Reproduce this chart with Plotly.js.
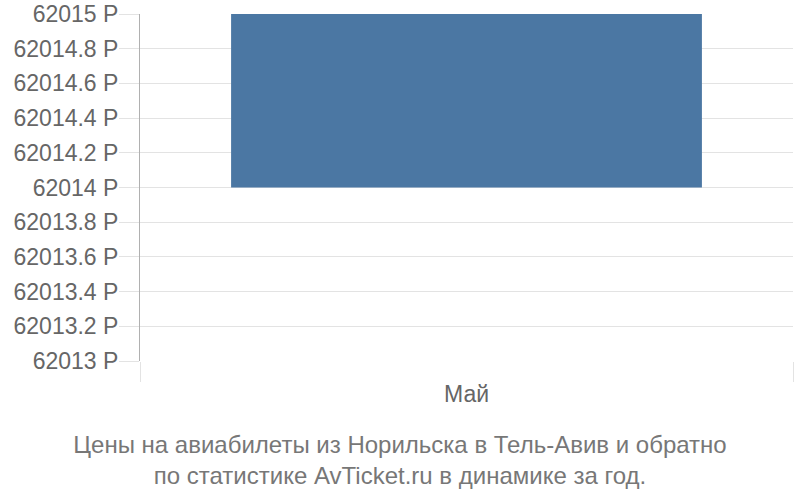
<!DOCTYPE html>
<html>
<head>
<meta charset="utf-8">
<script src="https://cdn.plot.ly/plotly-3.0.1.min.js"></script>
<style>
body{margin:0;padding:0;background:#fff;}
#chart{width:800px;height:500px;}
</style>
</head>
<body>
<div id="chart"></div>
<script>
// data
var months = ['Май'];
var priceLow = [62014];
var priceHigh = [62015];
var yTicks = [62013, 62013.2, 62013.4, 62013.6, 62013.8, 62014, 62014.2, 62014.4, 62014.6, 62014.8, 62015];

var tickText = yTicks.map(function(v){ return (Math.round(v*10)/10) + ' Р'; });
var heights = priceHigh.map(function(h, i){ return h - priceLow[i]; });

var trace1 = {
  x: months,
  y: heights,
  base: priceLow,
  type: 'bar',
  marker: {color: '#4b77a3'},
  hoverinfo: 'none'
};

var layout = {
  width: 800,
  height: 500,
  margin: {l: 140, r: 7, t: 14, b: 139},
  paper_bgcolor: '#fff',
  plot_bgcolor: '#fff',
  font: {family: 'Liberation Sans, Arial, sans-serif', color: '#666'},
  showlegend: false,
  bargap: 0.279,
  xaxis: {
    type: 'category',
    tickson: 'boundaries',
    ticks: 'outside',
    ticklen: 20,
    tickcolor: '#e3e3e3',
    ticklabelstandoff: 17,
    showgrid: true,
    gridcolor: '#e3e3e3',
    gridwidth: 1,
    showline: false,
    zeroline: false,
    tickfont: {size: 23, color: '#666'}
  },
  yaxis: {
    range: [62013, 62015],
    tickvals: yTicks,
    ticktext: tickText,
    ticks: 'outside',
    ticklen: 20,
    tickcolor: '#e3e3e3',
    ticklabelstandoff: -4,
    gridcolor: '#e3e3e3',
    showline: true,
    linecolor: '#b0b0b0',
    zeroline: false,
    tickfont: {size: 23, color: '#666'}
  },
  title: {
    text: 'Цены на авиабилеты из Норильска в Тель-Авив и обратно<br>по статистике AvTicket.ru в динамике за год.',
    font: {size: 24, color: '#777'},
    x: 0.5,
    xanchor: 'center',
    yref: 'container',
    y: 0.095,
    yanchor: 'middle'
  }
};

Plotly.newPlot('chart', [trace1], layout, {displayModeBar: false, staticPlot: true});
</script>
</body>
</html>
